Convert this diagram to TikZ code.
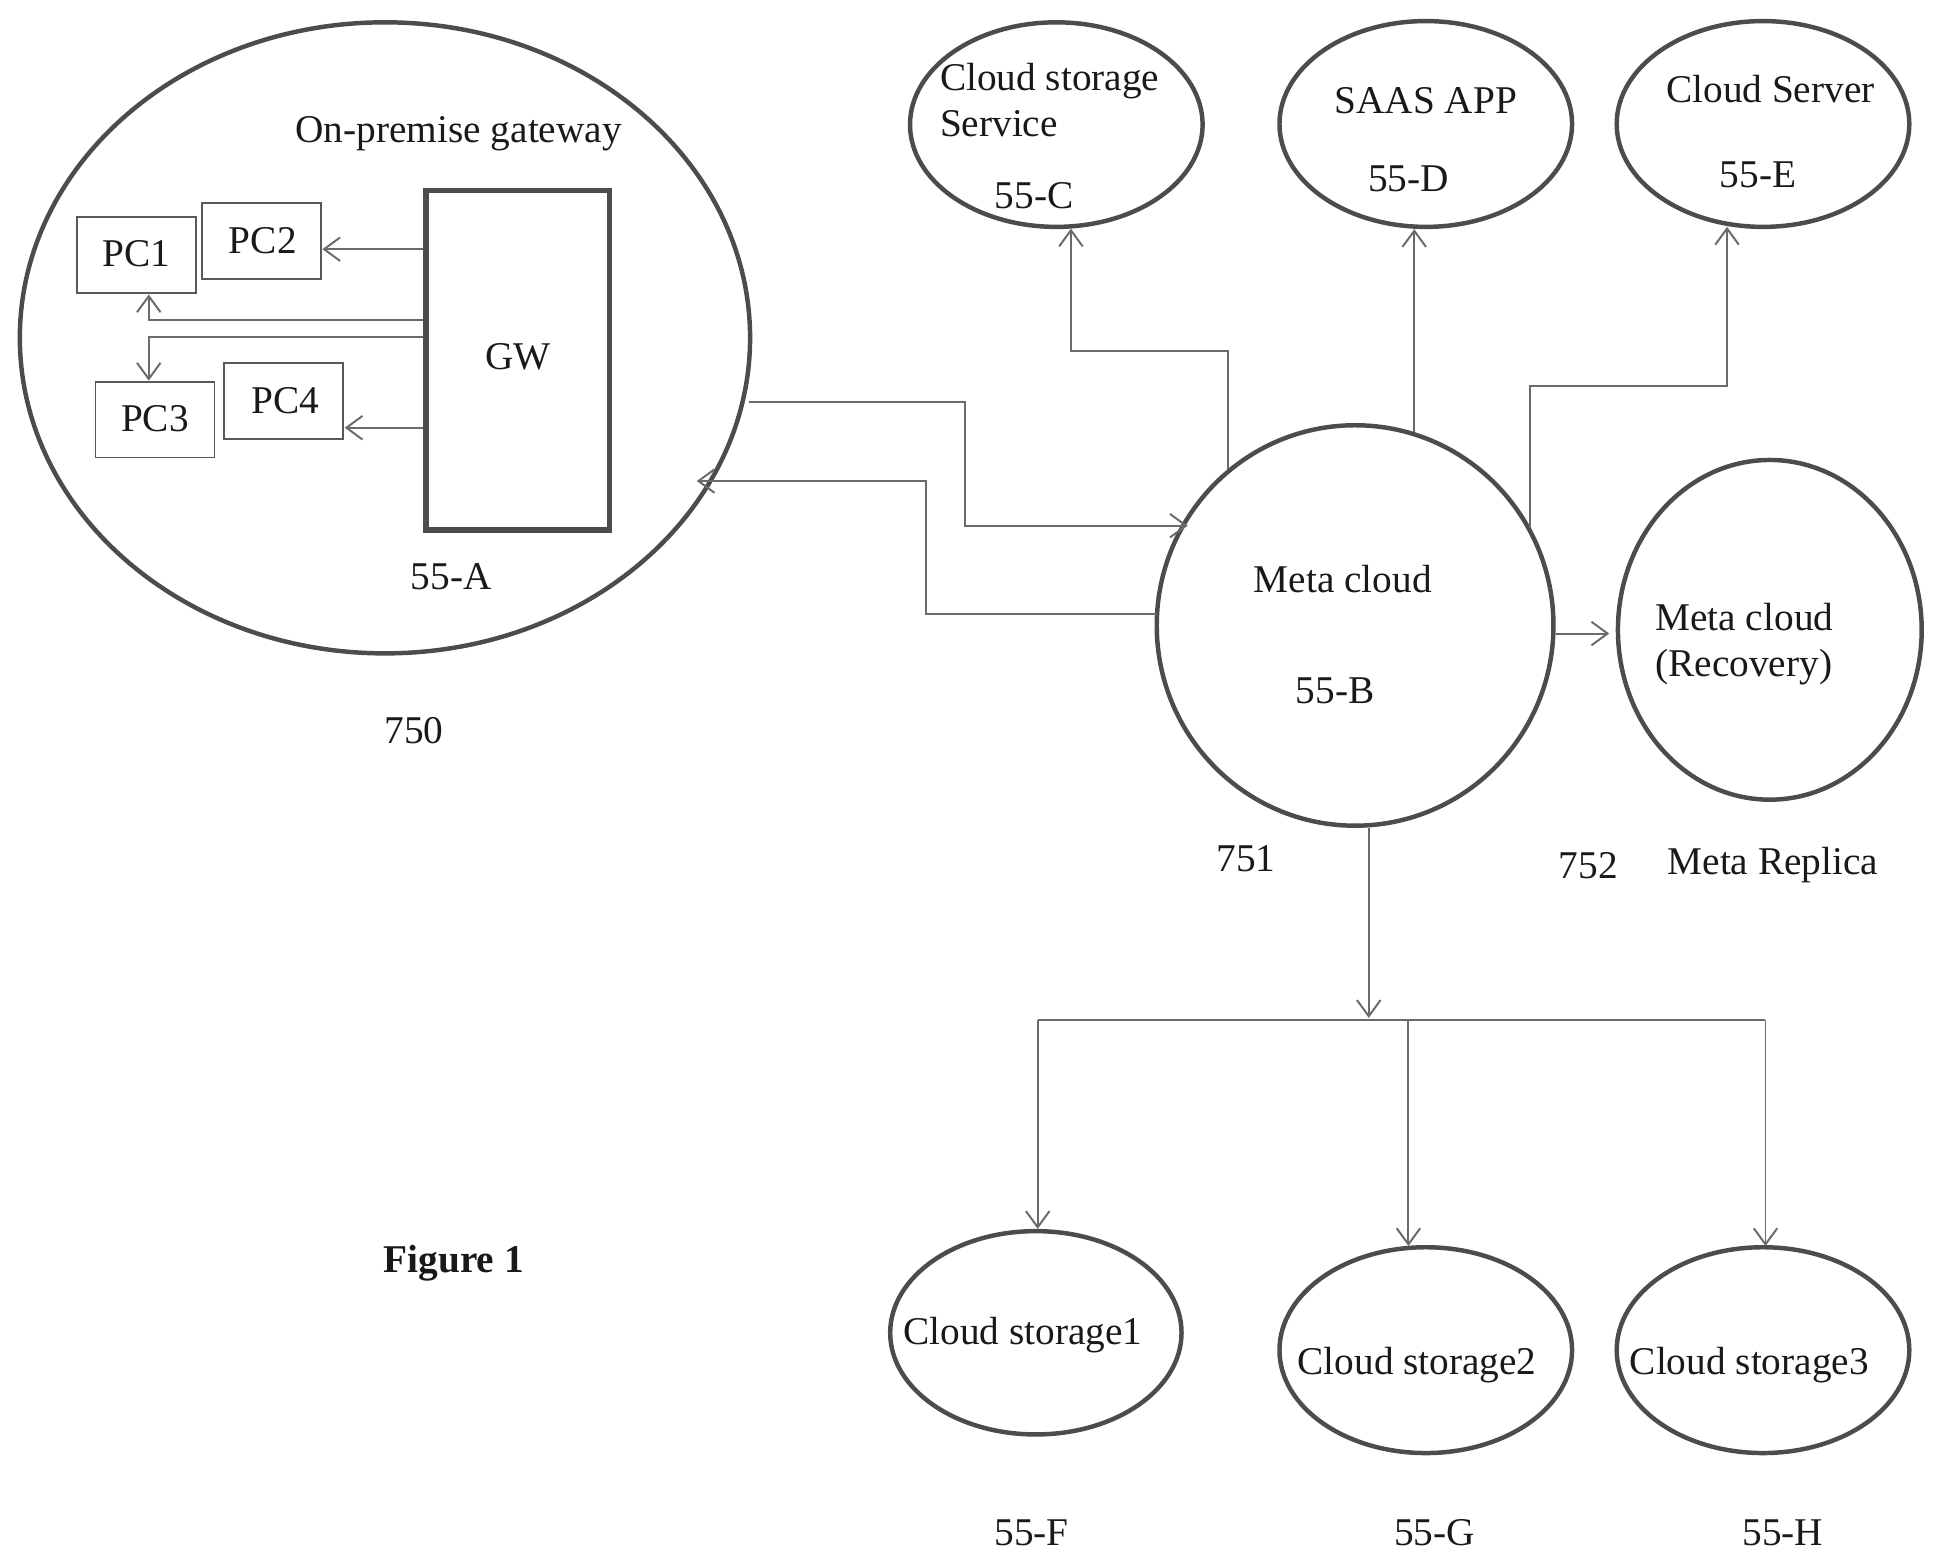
\documentclass[tikz,border=0pt]{standalone}
\usepackage{fontspec}
\setmainfont{Liberation Serif}
\usetikzlibrary{shapes.geometric,arrows.meta}
\definecolor{bubble}{gray}{0.30}
\definecolor{wire}{gray}{0.42}
\tikzset{
  bubble/.style={draw=bubble,line width=3.6pt,ellipse,inner sep=0pt,fill=none},
  pcbox/.style={draw=black!65,line width=1.5pt,rectangle,inner sep=0pt,minimum width=96pt,minimum height=61pt},
  gwbox/.style={draw=bubble,line width=4.5pt,rectangle,inner sep=0pt,minimum width=148pt,minimum height=274pt},
  wire/.style={draw=wire,line width=1.6pt},
  arr/.style={wire,-{Straight Barb[length=13pt,width=19pt,line width=1.6pt]}},
  lab/.style={inner sep=0pt,font=\fontsize{31.7}{37}\selectfont,text=black!90},
  lableft/.style={lab,align=left,anchor=west}
}
\begin{document}
\begin{tikzpicture}[x=1pt,y=-1pt]
\useasboundingbox (0,0) rectangle (1568,1262.3);
% ellipses
\node[bubble,minimum width=589pt,minimum height=509pt] (A) at (310.5,272.5) {};
\node[bubble,minimum width=320pt,minimum height=323pt] (B) at (1093,504.5) {};
\node[bubble,minimum width=236pt,minimum height=165pt] (C) at (852,100.5) {};
\node[bubble,minimum width=236pt,minimum height=166pt] (D) at (1150,100) {};
\node[bubble,minimum width=236pt,minimum height=166pt] (E) at (1422,100) {};
\node[bubble,minimum width=245pt,minimum height=274pt] (R) at (1427.5,508) {};
\node[bubble,minimum width=235pt,minimum height=164pt] (F) at (835.5,1075) {};
\node[bubble,minimum width=236pt,minimum height=166pt] (G) at (1150,1089) {};
\node[bubble,minimum width=236pt,minimum height=166pt] (H) at (1422,1089) {};
% boxes
\node[gwbox] (GW) at (417.5,290.5) {};
\node[pcbox] (PC1) at (110,205.5) {};
\node[pcbox] (PC2) at (211,194.5) {};
\node[pcbox] (PC3) at (125,338.5) {};
\node[pcbox] (PC4) at (229,323.5) {};
% gateway connectors
\coordinate (pc2in) at (260,201);
\draw[arr] (GW.west |- pc2in) -- (pc2in);
\coordinate (gwa) at (341,258);
\coordinate (gwb) at (341,272);
\coordinate (pc1in) at (120,237.5);
\coordinate (pc3in) at (120,307);
\draw[arr] (gwa) -| (pc1in);
\draw[arr] (gwb) -| (pc3in);
\coordinate (gwd) at (341,345);
\coordinate (pc4in) at (278,345);
\draw[arr] (gwd) -- (pc4in);
% A <-> B
\coordinate (aout) at (604,324);
\coordinate (bin) at (958,424);
\coordinate (bout) at (933,495);
\coordinate (ain) at (562,388);
\draw[arr] (aout) -- (778,324) |- (bin);
\draw[arr] (bout) -- (747,495) |- (ain);
% B to top clouds
\draw[arr] (B.129) -- ++(0,-95) -| (C.278);
\draw[arr] (B.73) -- (B.73 |- D.south);
\coordinate (bE) at (1234,426);
\draw[arr] (bE) -- (1234,311) -| (1393,183);
\coordinate (rin) at (1298,511);
\draw[arr] (B.east |- rin) -- (rin);
% B down to storage
\coordinate (busc) at (1104,821);
\coordinate (busl) at (837,823);
\coordinate (busr) at (1424,823);
\draw[arr] (B.south -| busc) -- (busc);
\draw[wire] (busl) -- (busr);
\draw[arr] (busl) -- (F.north -| busl);
\draw[arr] (1136,823) -- (1136,1005);
\draw[arr] (busr) -- (1424,1005);
% labels
\node[lab] (tgate) at (370,108) {On-premise gateway};
\node[lab] (tgw) at (418,288) {GW};
\node[lab] (t1) at (110,205) {PC1};
\node[lab] (t2) at (212,194) {PC2};
\node[lab] (t3) at (125,338) {PC3};
\node[lab] (t4) at (230,323) {PC4};
\node[lab] (t55a) at (364,465) {55-A};
\node[lab] (t750) at (334,589) {750};
\node[lableft] (tc) at (758,81) {Cloud storage\\[0pt]Service};
\node[lab] (t55c) at (834,158) {55-C};
\node[lab] (td) at (1150,81) {SAAS APP};
\node[lab] (t55d) at (1136,144) {55-D};
\node[lab] (te) at (1428,72) {Cloud Server};
\node[lab] (t55e) at (1418,141) {55-E};
\node[lab] (tb) at (1083,467) {Meta cloud};
\node[lab] (t55b) at (1077,557) {55-B};
\node[lableft] (tr) at (1335,519.5) {Meta cloud\\[0pt](Recovery)};
\node[lab] (t751) at (1005,693) {751};
\node[lab] (t752) at (1281,698) {752};
\node[lab] (trep) at (1430,698) {Meta Replica};
\node[lab] (tf) at (825,1077) {Cloud storage1};
\node[lab] (tg) at (1143,1101) {Cloud storage2};
\node[lab] (th) at (1411,1101) {Cloud storage3};
\node[lab] (t55f) at (832,1236) {55-F};
\node[lab] (t55g) at (1157,1236) {55-G};
\node[lab] (t55h) at (1438,1236) {55-H};
\node[lab,font=\fontsize{31.7}{37}\selectfont\bfseries] (tfig) at (366,1019) {Figure 1};
\end{tikzpicture}
\end{document}
